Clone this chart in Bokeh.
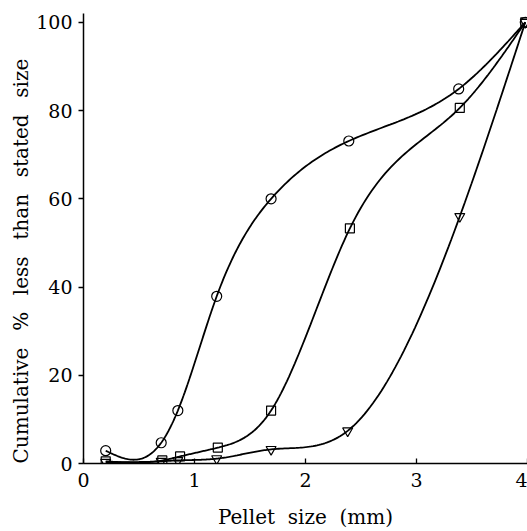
import numpy as np
from bokeh.plotting import figure
from bokeh.models import FixedTicker, Range1d, Title
from bokeh.embed import file_html
from bokeh.resources import INLINE

# --- data ---
circle_x = [0.20, 0.70, 0.85, 1.20, 1.69, 2.39, 3.38, 3.98]
circle_y = [2.9, 4.7, 12.0, 37.9, 60.0, 73.1, 84.9, 100.0]

square_x = [0.20, 0.71, 0.87, 1.21, 1.69, 2.40, 3.39, 3.98]
square_y = [0.5, 0.7, 1.6, 3.6, 12.0, 53.3, 80.6, 100.0]

tri_x = [0.20, 0.70, 0.85, 1.20, 1.69, 2.38, 3.39, 3.98]
tri_y = [0.3, 0.5, 0.7, 1.1, 3.2, 7.4, 56.0, 100.0]

x_ticks = [0, 1, 2, 3, 4]
y_ticks = [0, 20, 40, 60, 80, 100]

x_words = ["Pellet", "size", "(mm)"]
y_words = ["Cumulative", "%", "less", "than", "stated", "size"]

FONT = "DejaVu Serif"
NB = "\u00a0"

x_title = (NB * 2).join(x_words)
y_title = (NB * 2 + "\u2009").join(y_words)


def natural_spline(xs, ys, per_seg=40):
    x = np.asarray(xs, float)
    y = np.asarray(ys, float)
    k = len(x)
    h = np.diff(x)
    A = np.zeros((k, k))
    b = np.zeros(k)
    A[0, 0] = 1.0
    A[-1, -1] = 1.0
    for i in range(1, k - 1):
        A[i, i - 1] = h[i - 1]
        A[i, i] = 2 * (h[i - 1] + h[i])
        A[i, i + 1] = h[i]
        b[i] = 3 * ((y[i + 1] - y[i]) / h[i] - (y[i] - y[i - 1]) / h[i - 1])
    c = np.linalg.solve(A, b)
    px, py = [], []
    for i in range(k - 1):
        bi = (y[i + 1] - y[i]) / h[i] - h[i] * (2 * c[i] + c[i + 1]) / 3
        di = (c[i + 1] - c[i]) / (3 * h[i])
        t = np.linspace(0, h[i], per_seg, endpoint=(i == k - 2))
        px.extend(x[i] + t)
        py.extend(y[i] + bi * t + c[i] * t ** 2 + di * t ** 3)
    return px, py


p = figure(width=527, height=531, output_backend="svg", toolbar_location=None,
           x_range=Range1d(0, 4), y_range=Range1d(0, 102),
           min_border_left=83, min_border_right=0, min_border_top=13,
           min_border_bottom=66)
p.outline_line_color = None
p.grid.visible = False
p.background_fill_color = "white"

for xs, ys in [(circle_x, circle_y), (square_x, square_y), (tri_x, tri_y)]:
    sx, sy = natural_spline(xs, ys)
    p.line(sx, sy, line_color="black", line_width=1.8)

p.scatter(circle_x, circle_y, marker="circle", size=10, fill_color=None,
          line_color="black", line_width=1.2)
p.scatter(square_x, square_y, marker="square", size=9, fill_color=None,
          line_color="black", line_width=1.2)
p.scatter(tri_x, tri_y, marker="inverted_triangle", size=10, fill_color=None,
          line_color="black", line_width=1.2)

for ax in (p.xaxis, p.yaxis):
    ax.axis_line_color = "black"
    ax.axis_line_width = 1.5
    ax.major_tick_line_color = "black"
    ax.major_tick_line_width = 1.3
    ax.minor_tick_line_color = None
    ax.major_label_text_font = FONT
    ax.major_label_text_font_size = "19px"
    ax.major_label_text_color = "black"

p.xaxis.ticker = FixedTicker(ticks=x_ticks)
p.xaxis.major_tick_in = 5
p.xaxis.major_tick_out = 0
p.xaxis.major_label_standoff = 9
p.xaxis.axis_label = x_title
p.xaxis.axis_label_text_font = FONT
p.xaxis.axis_label_text_font_size = "20px"
p.xaxis.axis_label_text_font_style = "normal"
p.xaxis.axis_label_text_color = "black"
p.xaxis.axis_label_standoff = 15

p.yaxis.ticker = FixedTicker(ticks=y_ticks)
p.yaxis.major_tick_in = 0
p.yaxis.major_tick_out = 5
p.yaxis.major_label_standoff = 6

p.add_layout(Title(text=y_title, align="left", offset=0, text_font=FONT,
                   text_font_size="20px", text_font_style="normal",
                   text_color="black", standoff=2), "left")

open("out.html", "w").write(file_html(p, INLINE))
